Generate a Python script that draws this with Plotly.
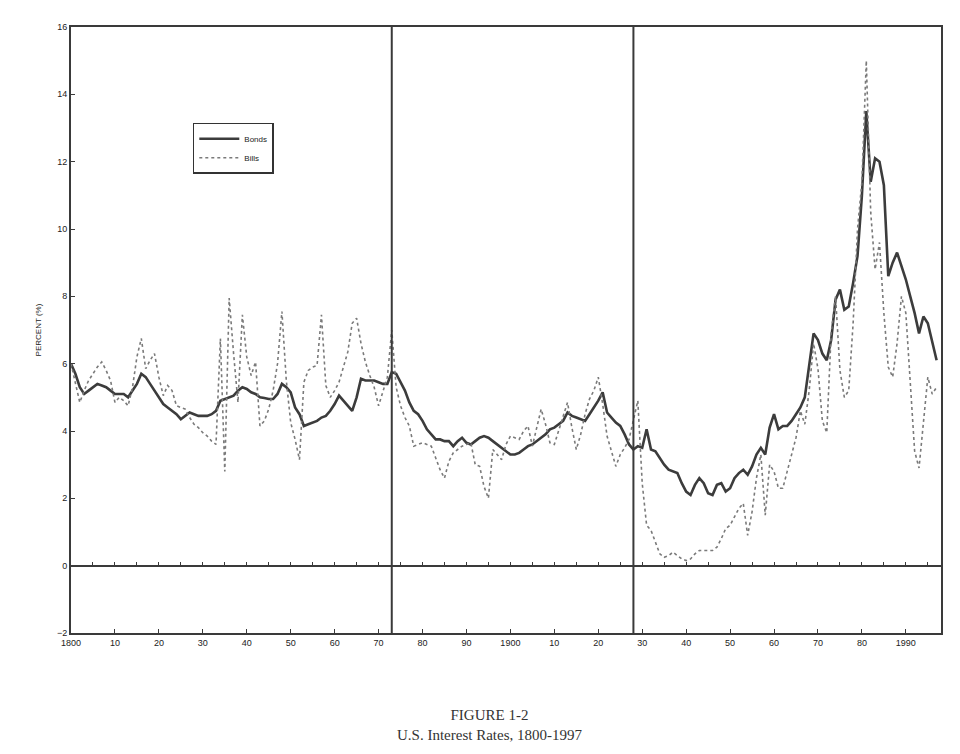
import plotly.graph_objects as go

years = list(range(1800, 1998))

bonds = [
    6.0, 5.7, 5.3, 5.1, 5.2, 5.3, 5.4, 5.35, 5.3, 5.2,          # 1800-1809
    5.1, 5.1, 5.1, 5.0, 5.2, 5.4, 5.7, 5.6, 5.4, 5.2,           # 1810-1819
    5.0, 4.8, 4.7, 4.6, 4.5, 4.35, 4.45, 4.55, 4.5, 4.45,       # 1820-1829
    4.45, 4.45, 4.5, 4.6, 4.9, 4.95, 5.0, 5.05, 5.2, 5.3,       # 1830-1839
    5.25, 5.15, 5.1, 5.0, 4.98, 4.95, 4.95, 5.1, 5.4, 5.3,      # 1840-1849
    5.15, 4.7, 4.5, 4.15, 4.2, 4.25, 4.3, 4.4, 4.45, 4.6,       # 1850-1859
    4.8, 5.05, 4.9, 4.75, 4.6, 5.0, 5.55, 5.5, 5.5, 5.5,        # 1860-1869
    5.45, 5.4, 5.4, 5.75, 5.7, 5.45, 5.2, 4.85, 4.6, 4.5,       # 1870-1879
    4.3, 4.05, 3.9, 3.75, 3.75, 3.7, 3.7, 3.55, 3.7, 3.8,       # 1880-1889
    3.65, 3.6, 3.7, 3.8, 3.85, 3.8, 3.7, 3.6, 3.5, 3.4,         # 1890-1899
    3.3, 3.3, 3.35, 3.45, 3.55, 3.6, 3.7, 3.8, 3.9, 4.05,       # 1900-1909
    4.1, 4.2, 4.3, 4.55, 4.45, 4.4, 4.35, 4.3, 4.5, 4.7,        # 1910-1919
    4.9, 5.15, 4.55, 4.4, 4.25, 4.15, 3.9, 3.6, 3.45, 3.55,     # 1920-1929
    3.5, 4.05, 3.45, 3.4, 3.2, 3.0, 2.85, 2.8, 2.75, 2.45,      # 1930-1939
    2.2, 2.1, 2.4, 2.6, 2.45, 2.15, 2.1, 2.4, 2.45, 2.2,        # 1940-1949
    2.3, 2.6, 2.75, 2.85, 2.7, 2.95, 3.3, 3.5, 3.3, 4.1,        # 1950-1959
    4.5, 4.05, 4.15, 4.15, 4.3, 4.5, 4.7, 5.0, 5.9, 6.9,        # 1960-1969
    6.7, 6.3, 6.1, 6.7, 7.9, 8.2, 7.6, 7.7, 8.4, 9.2,           # 1970-1979
    11.0, 13.5, 11.4, 12.1, 12.0, 11.3, 8.6, 9.0, 9.3, 8.9,     # 1980-1989
    8.5, 8.0, 7.5, 6.9, 7.4, 7.2, 6.6, 6.1,                     # 1990-1997
]

bills = [
    6.0, 5.4, 4.85, 5.2, 5.5, 5.7, 5.9, 6.05, 5.8, 5.5,         # 1800-1809
    4.85, 5.0, 4.9, 4.75, 5.3, 6.2, 6.75, 5.85, 6.1, 6.3,       # 1810-1819
    5.6, 5.05, 5.35, 5.2, 4.75, 4.7, 4.65, 4.4, 4.2, 4.1,       # 1820-1829
    3.95, 3.85, 3.7, 3.6, 6.75, 2.8, 7.95, 6.3, 4.85, 7.45,     # 1830-1839
    6.2, 5.65, 6.05, 4.15, 4.3, 4.65, 5.2, 6.0, 7.55, 5.5,      # 1840-1849
    4.25, 3.75, 3.15, 5.45, 5.8, 5.9, 5.95, 7.45, 5.35, 5.0,    # 1850-1859
    5.2, 5.45, 5.9, 6.35, 7.2, 7.35, 6.6, 6.05, 5.65, 5.3,      # 1860-1869
    4.75, 5.2, 5.6, 7.0, 5.3, 4.75, 4.4, 4.15, 3.55, 3.6,       # 1870-1879
    3.65, 3.6, 3.55, 3.2, 2.85, 2.6, 3.1, 3.35, 3.45, 3.55,     # 1880-1889
    3.6, 3.65, 3.0, 2.95, 2.35, 2.0, 3.45, 3.3, 3.15, 3.6,      # 1890-1899
    3.85, 3.8, 3.75, 4.0, 4.15, 3.55, 4.1, 4.65, 4.2, 3.65,     # 1900-1909
    3.6, 4.0, 4.4, 4.85, 4.1, 3.45, 3.9, 4.5, 4.95, 5.2,        # 1910-1919
    5.6, 4.8, 3.85, 3.4, 2.95, 3.3, 3.5, 3.75, 4.3, 4.9,        # 1920-1929
    2.45, 1.2, 1.05, 0.7, 0.35, 0.25, 0.3, 0.4, 0.3, 0.2,       # 1930-1939
    0.15, 0.2, 0.35, 0.45, 0.45, 0.45, 0.45, 0.55, 0.8, 1.1,    # 1940-1949
    1.2, 1.45, 1.7, 1.85, 0.9, 1.6, 2.6, 3.3, 1.5, 3.0,         # 1950-1959
    2.8, 2.3, 2.3, 2.8, 3.3, 3.8, 4.6, 4.2, 5.2, 6.6,           # 1960-1969
    5.85, 4.3, 3.95, 6.9, 8.0, 5.8, 5.0, 5.2, 7.2, 10.0,        # 1970-1979
    11.4, 15.0, 10.5, 8.8, 9.6, 7.5, 5.9, 5.6, 6.6, 8.0,        # 1980-1989
    7.5, 5.4, 3.4, 2.9, 4.3, 5.6, 5.1, 5.3,                     # 1990-1997
]

tick_years = list(range(1800, 2000, 10))
tick_labels = ["1800", "10", "20", "30", "40", "50", "60", "70", "80", "90",
               "1900", "10", "20", "30", "40", "50", "60", "70", "80", "1990"]
zero_ticks = list(range(1800, 2000, 5))
period_breaks = [1873, 1928]

axis_color = "#3a3a3a"
sans = "Arial, Liberation Sans, sans-serif"
tick_font = dict(family=sans, size=9, color="#222222")

fig = go.Figure()
fig.add_trace(go.Scatter(
    x=years, y=bonds, name="Bonds", mode="lines",
    line=dict(color="#3c3c3c", width=2.6),
))
fig.add_trace(go.Scatter(
    x=years, y=bills, name="Bills", mode="lines",
    line=dict(color="#7a7a7a", width=1.6, dash="dot"),
))
# empty trace that only activates the zero-level axis (carries tick marks)
fig.add_trace(go.Scatter(
    x=[years[0]], y=[None], xaxis="x2", yaxis="y", mode="lines",
    showlegend=False, hoverinfo="skip",
))

for yr in period_breaks:
    fig.add_shape(type="line", xref="x", yref="paper", x0=yr, x1=yr, y0=0, y1=1,
                  line=dict(color=axis_color, width=2))

fig.update_layout(
    width=952, height=746,
    margin=dict(l=63, r=19, t=19, b=121),
    paper_bgcolor="white", plot_bgcolor="white",
    showlegend=True,
    legend=dict(
        x=0.14, y=0.842, xanchor="left", yanchor="top",
        bgcolor="white", bordercolor="#333333", borderwidth=1.5,
        font=dict(family=sans, size=8, color="#222222"),
        itemwidth=40, tracegroupgap=0,
    ),
    xaxis=dict(
        range=[1800, 1998], tickmode="array", tickvals=tick_years, ticktext=tick_labels,
        showgrid=False, zeroline=False, showline=True, linecolor=axis_color, linewidth=2,
        mirror=True, ticks="inside", ticklen=4, tickcolor=axis_color,
        tickfont=tick_font,
    ),
    xaxis2=dict(
        range=[1800, 1998], overlaying="x", anchor="free", position=2 / 18,
        tickmode="array", tickvals=zero_ticks, showticklabels=False,
        showgrid=False, zeroline=False, showline=True, linecolor=axis_color, linewidth=2,
        ticks="inside", ticklen=3, tickcolor=axis_color,
    ),
    yaxis=dict(
        range=[-2, 16], dtick=2, showgrid=False, zeroline=True,
        zerolinecolor=axis_color, zerolinewidth=2,
        showline=True, linecolor=axis_color, linewidth=2, mirror=True,
        ticks="inside", ticklen=4, tickcolor=axis_color, tickfont=tick_font,
        title=dict(text="PERCENT (%)", font=dict(family=sans, size=8, color="#222222"),
                   standoff=14),
    ),
    annotations=[
        dict(text="FIGURE 1-2<br>U.S. Interest Rates, 1800-1997", xref="paper", yref="paper",
             x=0.4816, y=-0.151, xanchor="center", yanchor="middle", showarrow=False,
             font=dict(family="Liberation Serif, Times New Roman, serif", size=15,
                       color="#333333")),
    ],
)

fig.write_html("out.html")
